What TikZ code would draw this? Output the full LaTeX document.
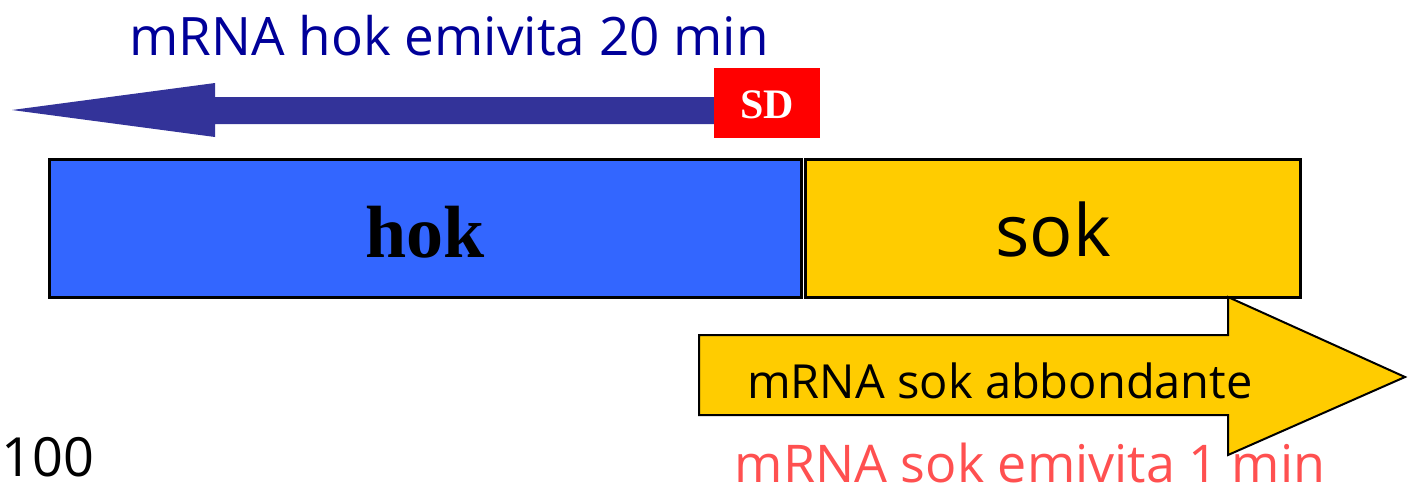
\documentclass[tikz,border=0pt]{standalone}
\usepackage{fontspec}
\setmainfont{Liberation Serif}
\newfontfamily\comic{Open Sans}
\usepackage{tikz, xcolor}
\definecolor{hokblue}{HTML}{3366FF}
\definecolor{sokyellow}{HTML}{FFCC00}
\definecolor{arrowblue}{HTML}{333399}
\definecolor{titleblue}{HTML}{000099}
\definecolor{sdred}{HTML}{FF0000}
\definecolor{salmon}{HTML}{FF5050}

\begin{document}
\begin{tikzpicture}[x=0.5pt, y=-0.5pt]
    \useasboundingbox (0, 0) rectangle (1410, 495);

    % hok mRNA, going left
    \node (hoktitle) [color=titleblue] at (449, 36) {\comic\fontsize{26.5}{30}\selectfont mRNA hok emivita 20 min};
    \fill [color=arrowblue] (12, 110) -- (215, 83) -- (215, 97) -- (716, 97)
      -- (716, 124) -- (215, 124) -- (215, 137) -- cycle;
    \fill [color=sdred] (714, 68) rectangle (820, 138);
    \node (sd) [color=white, font=\bfseries\fontsize{21}{24}\selectfont] at (767, 105) {SD};

    % the two genes
    \draw [fill=hokblue, line width=1.5pt] (49, 159) rectangle (801, 297);
    \draw [fill=sokyellow, line width=1.5pt] (805, 159) rectangle (1300, 297);
    \node (hok) [font=\bfseries\fontsize{37}{40}\selectfont] at (425, 232) {hok};
    \node (sok) at (1053, 229) {\comic\fontsize{36}{40}\selectfont sok};

    % sok mRNA, going right
    \draw [fill=sokyellow, line width=1pt] (699, 335) -- (1228, 335) -- (1228, 297)
      -- (1405, 377) -- (1228, 455) -- (1228, 415) -- (699, 415) -- cycle;
    \node (sokab) at (1000, 381) {\comic\fontsize{23.5}{27}\selectfont mRNA sok abbondante};
    \node (soktitle) [color=salmon, inner sep=0pt] at (1030, 463) {\comic\fontsize{26}{30}\selectfont mRNA sok emivita 1 min};

    \node (num) [anchor=east, inner sep=0pt] at (95, 457) {\comic\fontsize{27}{30}\selectfont 100};
\end{tikzpicture}
\end{document}
